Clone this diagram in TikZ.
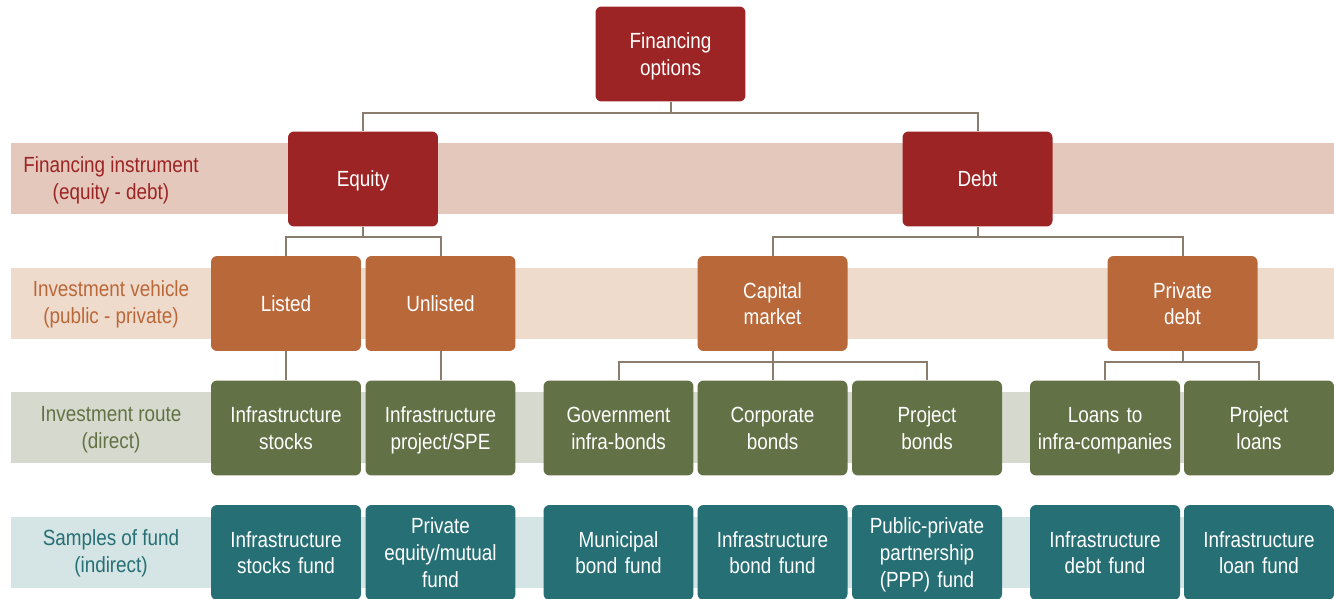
\documentclass[tikz,border=0pt]{standalone}
\usepackage{fontspec}
\setmainfont{Liberation Sans}[FakeStretch=0.86]
\usetikzlibrary{positioning}
\definecolor{finred}{HTML}{9C2424}
\definecolor{vehorange}{HTML}{B9683A}
\definecolor{routegreen}{HTML}{637246}
\definecolor{fundteal}{HTML}{266F75}
\definecolor{bandred}{HTML}{E5C8BC}
\definecolor{bandorange}{HTML}{EFDBCC}
\definecolor{bandgreen}{HTML}{D6D9CD}
\definecolor{bandteal}{HTML}{D5E4E4}
\definecolor{linkgray}{HTML}{8A7D6E}
\newcommand{\boxfont}{\fontsize{12.5}{15.3}\selectfont}
% struts that centre the caps, not the full line box
\newcommand{\capstrut}{\rule{0pt}{12.1pt}}
\newcommand{\descstrut}{\rule[-3pt]{0pt}{3pt}}
\tikzstyle{box}=[rectangle,rounded corners=0.12cm,minimum width=3cm,minimum height=1.9cm,inner sep=0pt,text width=2.9cm,align=center,text=white,font=\boxfont,execute at begin node=\capstrut,execute at end node=\descstrut]
\tikzstyle{instr}=[box,fill=finred]
\tikzstyle{vehicle}=[box,fill=vehorange]
\tikzstyle{route}=[box,fill=routegreen]
\tikzstyle{fund}=[box,fill=fundteal]
\tikzstyle{bandlabel}=[align=center,font=\boxfont,execute at begin node=\capstrut,execute at end node=\descstrut]
\tikzstyle{conn}=[draw=linkgray,line width=0.04cm]

\begin{document}
\begin{tikzpicture}[x=0.02cm,y=-0.02cm]
  \useasboundingbox (0,0) rectangle (1334,598);
  \clip (0,0) rectangle (1334,598);

  % bands
  \fill[bandred] (11,143) rectangle (1334,214);
  \fill[bandorange] (11,268) rectangle (1334,339);
  \fill[bandgreen] (11,392) rectangle (1334,463);
  \fill[bandteal] (11,517) rectangle (1334,588);

  \node[bandlabel,text=finred] (lab instr) at (111,180.5) {Financing instrument\\(equity - debt)};
  \node[bandlabel,text=vehorange] (lab vehicle) at (111,305) {Investment vehicle\\(public - private)};
  \node[bandlabel,text=routegreen] (lab route) at (111,430) {Investment route\\(direct)};
  \node[bandlabel,text=fundteal] (lab fund) at (111,554) {Samples of fund\\(indirect)};

  % top levels
  \node[instr] (options) at (670.5,54) {Financing\\options};
  \node[instr] (equity) at (363,179) {Equity};
  \node[instr] (debt) at (977.5,179) {Debt};

  \node[vehicle] (listed) at (286,303.5) {Listed};
  \node[vehicle] (unlisted) at (440.5,303.5) {Unlisted};
  \node[vehicle] (capital) at (772.5,303.5) {Capital\\market};
  \node[vehicle] (private) at (1182.5,303.5) {Private\\debt};

  % direct routes and funds
  \foreach \name/\x/\txt in {stocks/286/{Infrastructure\\stocks},
      spe/440.5/{Infrastructure\\project/SPE},
      gov/618.5/{Government\\infra-bonds},
      corp/772.5/{Corporate\\bonds},
      pbonds/927/{Project\\bonds},
      loans/1105/{Loans to\\infra-companies},
      ploans/1259/{Project\\loans}} {
    \node[route] (\name) at (\x,428) {\txt};
  }
  \foreach \name/\x/\txt in {stocks/286/{Infrastructure\\stocks fund},
      spe/440.5/{Private\\equity/mutual\\fund},
      gov/618.5/{Municipal\\bond fund},
      corp/772.5/{Infrastructure\\bond fund},
      pbonds/927/{Public-private\\partnership\\(PPP) fund},
      loans/1105/{Infrastructure\\debt fund},
      ploans/1259/{Infrastructure\\loan fund}} {
    \node[fund] (\name\space fund) at (\x,552.5) {\txt};
  }

  % connectors
  \foreach \child in {equity,debt} {
    \draw[conn] (options.south) -- ++(0,11) -| (\child.north);
  }
  \foreach \child in {listed,unlisted} {
    \draw[conn] (equity.south) -- ++(0,10) -| (\child.north);
  }
  \foreach \child in {capital,private} {
    \draw[conn] (debt.south) -- ++(0,10) -| (\child.north);
  }
  \draw[conn] (listed) -- (stocks);
  \draw[conn] (unlisted) -- (spe);
  \foreach \child in {gov,corp,pbonds} {
    \draw[conn] (capital.south) -- ++(0,11) -| (\child.north);
  }
  \foreach \child in {loans,ploans} {
    \draw[conn] (private.south) -- ++(0,11) -| (\child.north);
  }
\end{tikzpicture}
\end{document}
